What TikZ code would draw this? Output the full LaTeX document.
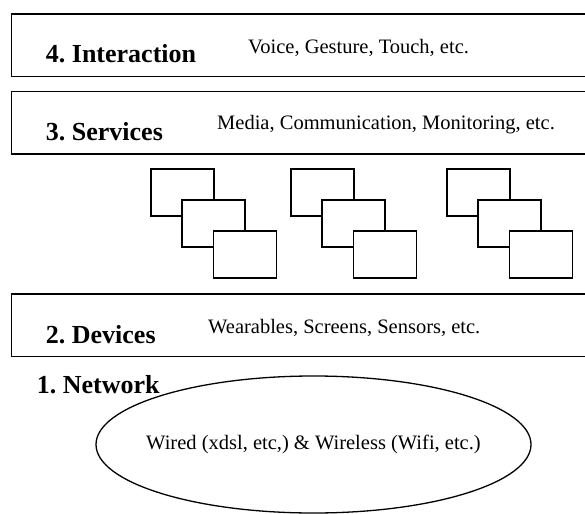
\documentclass[tikz,border=0pt]{standalone}
\usepackage{fontspec}
\setmainfont{Liberation Serif}
\usetikzlibrary{shapes.geometric}
\frenchspacing

\tikzset{
  layer/.style={draw, line width=1.3pt, rectangle, anchor=north west,
    minimum width=600pt, minimum height=62.7pt, inner sep=0pt},
  layername/.style={anchor=base west, inner sep=0pt,
    font=\fontsize{26}{30}\selectfont\bfseries},
  layertext/.style={anchor=base west, inner sep=0pt,
    font=\fontsize{20.5}{24}\selectfont}
}

\begin{document}
\begin{tikzpicture}[x=1pt,y=-1pt]

        \useasboundingbox (0,0) rectangle (585,513);
        \clip (0,0) rectangle (585,513);

        % layers
        \node[layer] (l4) at (11,13.3)  {};
        \node[layer] (l3) at (11,90.7)  {};
        \node[layer] (l2) at (11,293.3) {};

        \node[layername] (n4) at (45.7,63)  {4. Interaction};
        \node[layertext] (t4) at (248,54)   {Voice, Gesture, Touch, etc.};
        \node[layername] (n3) at (45.7,140) {3. Services};
        \node[layertext] (t3) at (217,130)  {Media, Communication, Monitoring, etc.};
        \node[layername] (n2) at (45.7,343) {2. Devices};
        \node[layertext] (t2) at (208,333)  {Wearables, Screens, Sensors, etc.};
        \node[layername] (n1) at (36.7,393) {1. Network};

        % devices
        \begin{scope}[every node/.style={rectangle, draw, fill=white, line width=1.5pt,
            minimum width=63pt, minimum height=47pt, inner sep=0pt}]
          \node (a1) at (182.5,192.5) {};
          \node (a2) at (213.5,223.5) {};
          \node (a3) at (245,254.5)   {};
          \node (b1) at (322.5,192.5) {};
          \node (b2) at (353.5,223.5) {};
          \node (b3) at (385,254.5)   {};
          \node (c1) at (478.5,192.5) {};
          \node (c2) at (509.5,223.5) {};
          \node (c3) at (541,254.5)   {};
        \end{scope}

        % network
        \node[ellipse, draw, line width=1.3pt, inner sep=0pt,
          minimum width=435pt, minimum height=137pt] (net) at (313.5,444.5) {};
        \node[inner sep=0pt, font=\fontsize{20.5}{24}\selectfont] (wired) at (net.center)
          {Wired (xdsl, etc,) \& Wireless (Wifi, etc.)};

      \end{tikzpicture}
\end{document}
